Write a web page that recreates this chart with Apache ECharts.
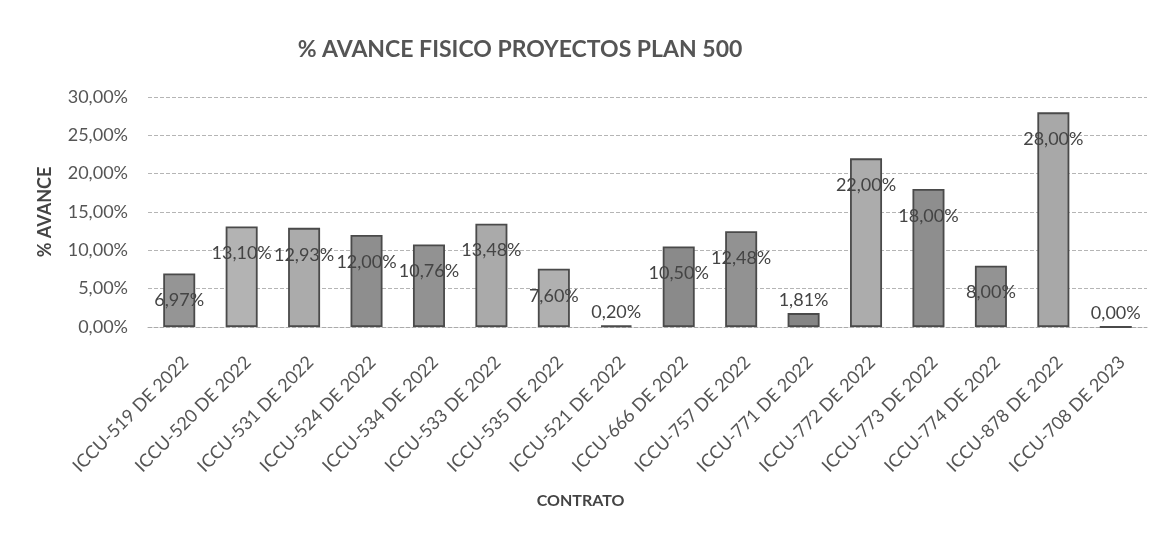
<!DOCTYPE html>
<html>
<head>
<meta charset="utf-8">
<script src="https://cdn.jsdelivr.net/npm/echarts@6/dist/echarts.min.js"></script>
<style>
  html, body { margin: 0; padding: 0; background: #fff; }
  #chart { width: 1162px; height: 538px; }
</style>
</head>
<body>
<div id="chart"></div>
<script>
// datos
const contratos = [
  'ICCU-519 DE 2022', 'ICCU-520 DE 2022', 'ICCU-531 DE 2022', 'ICCU-524 DE 2022',
  'ICCU-534 DE 2022', 'ICCU-533 DE 2022', 'ICCU-535 DE 2022', 'ICCU-521 DE 2022',
  'ICCU-666 DE 2022', 'ICCU-757 DE 2022', 'ICCU-771 DE 2022', 'ICCU-772 DE 2022',
  'ICCU-773 DE 2022', 'ICCU-774 DE 2022', 'ICCU-878 DE 2022', 'ICCU-708 DE 2023'
]
const avance = [6.97, 13.10, 12.93, 12.00, 10.76, 13.48, 7.60, 0.20, 10.50, 12.48, 1.81, 22.00, 18.00, 8.00, 28.00, 0.00]
const yTicks = [0, 5, 10, 15, 20, 25, 30]

// tonos de gris de la impresión
const grises = ['#959595', '#b3b3b3', '#ababab', '#8e8e8e', '#929292', '#aaaaaa', '#b0b0b0', '#7a7a7a',
  '#8a8a8a', '#929292', '#858585', '#acacac', '#8e8e8e', '#939393', '#a8a8a8', '#999999']

const fmt = v => v.toFixed(2).replace('.', ',') + '%'
const font = 'Lato, "Open Sans", sans-serif'

const myChart = echarts.init(document.getElementById('chart'))
myChart.setOption({
  animation: false,
  title: {
    text: '% AVANCE FISICO PROYECTOS PLAN 500',
    left: 515,
    textAlign: 'center',
    top: 33,
    textStyle: { fontFamily: font, fontSize: 23, fontWeight: 'bold', color: '#555' }
  },
  grid: { left: 148, right: 15, top: 97, bottom: 211 },
  xAxis: {
    type: 'category',
    data: contratos,
    name: 'CONTRATO',
    nameLocation: 'middle',
    nameGap: 166,
    nameTextStyle: { fontFamily: font, fontSize: 16, fontWeight: 'bold', color: '#444', padding: [0, 134, 0, 0] },
    axisLine: { show: true, lineStyle: { color: '#aaa', type: [4, 2] } },
    axisTick: { show: false },
    axisLabel: { rotate: 45, interval: 0, margin: 26, verticalAlign: 'top', fontFamily: font, fontSize: 18, color: '#555' }
  },
  yAxis: {
    type: 'value',
    min: yTicks[0],
    max: yTicks[yTicks.length - 1],
    interval: 5,
    name: '% AVANCE',
    nameLocation: 'middle',
    nameGap: 94,
    nameRotate: 90,
    nameTextStyle: { fontFamily: font, fontSize: 18, fontWeight: 'bold', color: '#444' },
    axisLine: { show: false },
    axisTick: { show: false },
    axisLabel: { margin: 20, fontFamily: font, fontSize: 18, color: '#555', formatter: v => fmt(v) },
    splitLine: { lineStyle: { color: '#b5b5b5', type: [4, 2] } }
  },
  series: [{
    type: 'bar',
    barWidth: 32,
    data: avance.map((v, i) => ({
      value: v,
      itemStyle: { color: grises[i] },
      label: v < 3 ? { position: 'top', distance: 4 } : {}
    })),
    itemStyle: { borderColor: '#4a4a4a', borderWidth: 1.8 },
    label: {
      show: true,
      position: 'insideTop',
      distance: 18,
      fontFamily: font,
      fontSize: 18,
      color: '#444',
      formatter: p => fmt(p.value)
    }
  }]
})
</script>
</body>
</html>
